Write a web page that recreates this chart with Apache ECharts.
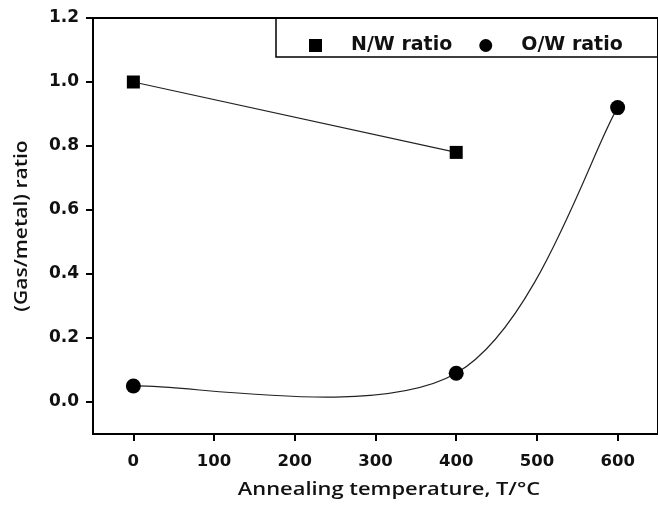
<!DOCTYPE html>
<html>
<head>
<meta charset="utf-8">
<script src="https://cdn.jsdelivr.net/npm/echarts@6/dist/echarts.min.js"></script>
<style>
  html, body { margin: 0; padding: 0; background: #fff; }
  #chart { width: 658px; height: 508px; }
</style>
</head>
<body>
<div id="chart"></div>
<script>
// Annealing temperature (°C) and measured gas-to-metal ratios
const nwTemps = [0, 400];
const nwRatio = [1.0, 0.78];
const owTemps = [0, 400, 600];
const owRatio = [0.05, 0.09, 0.92];

const xTicks = [0, 100, 200, 300, 400, 500, 600];
const yTicks = [0.0, 0.2, 0.4, 0.6, 0.8, 1.0, 1.2];

const seriesNames = ['N/W ratio', 'O/W ratio'];
const xTitle = 'Annealing temperature, T/\u00B0C';
const yTitle = '(Gas/metal) ratio';

const pairs = (xs, ys) => xs.map((x, i) => [x, ys[i]]);

const tickFont = 'DejaVu Sans';

// Catmull-Rom spline through the projected points, as an SVG path string
function splinePath(pts) {
  let d = 'M' + pts[0][0] + ' ' + pts[0][1];
  for (let i = 0; i < pts.length - 1; i++) {
    const p0 = pts[i - 1] || pts[i];
    const p1 = pts[i];
    const p2 = pts[i + 1];
    const p3 = pts[i + 2] || pts[i + 1];
    const c1 = [p1[0] + (p2[0] - p0[0]) / 6, p1[1] + (p2[1] - p0[1]) / 6];
    const c2 = [p2[0] - (p3[0] - p1[0]) / 6, p2[1] - (p3[1] - p1[1]) / 6];
    d += ' C' + c1[0] + ' ' + c1[1] + ' ' + c2[0] + ' ' + c2[1] + ' ' + p2[0] + ' ' + p2[1];
  }
  return d;
}

const chart = echarts.init(document.getElementById('chart'), null, { renderer: 'canvas' });

chart.setOption({
  animation: false,
  backgroundColor: '#ffffff',
  color: ['#000000', '#000000'],
  grid: {
    left: 93, top: 18, width: 568, height: 416,
    show: true, borderColor: '#000', borderWidth: 2, backgroundColor: 'transparent'
  },
  xAxis: {
    type: 'value', min: -50, max: 650,
    axisLine: { show: true, onZero: false, lineStyle: { color: '#000', width: 2 } },
    axisTick: { show: true, inside: false, length: 7, lineStyle: { color: '#000', width: 2 }, customValues: xTicks },
    axisLabel: {
      customValues: xTicks, margin: 19, color: '#111',
      fontFamily: tickFont, fontWeight: 'bold', fontSize: 16.5
    },
    splitLine: { show: false }
  },
  yAxis: {
    type: 'value', min: -0.1, max: 1.2,
    axisLine: { show: true, onZero: false, lineStyle: { color: '#000', width: 2 } },
    axisTick: { show: true, inside: false, length: 7, lineStyle: { color: '#000', width: 2 }, customValues: yTicks },
    axisLabel: {
      customValues: yTicks, margin: 14, color: '#111',
      fontFamily: tickFont, fontWeight: 'bold', fontSize: 17,
      formatter: v => v.toFixed(1)
    },
    splitLine: { show: false }
  },
  legend: {
    left: 304, top: 31,
    itemWidth: 13, itemHeight: 13, itemGap: 27,
    data: [
      { name: seriesNames[0], icon: 'rect', itemStyle: { color: '#000' } },
      { name: seriesNames[1], icon: 'circle', itemStyle: { color: '#000' } }
    ],
    textStyle: {
      color: '#111', fontFamily: tickFont, fontWeight: 'bold', fontSize: 19,
      padding: [0, 0, 0, 24]
    }
  },
  graphic: [
    {
      type: 'rect', z: 100,
      shape: { x: 276, y: 18, width: 420, height: 39 },
      style: { fill: 'none', stroke: '#000', lineWidth: 1.5 }
    },
    {
      type: 'text', x: 389, y: 490, scaleX: 1.25,
      style: {
        text: xTitle, fill: '#111', font: '600 17.5px "Open Sans"',
        textAlign: 'center', textVerticalAlign: 'middle'
      }
    },
    {
      type: 'text', x: 22, y: 226, rotation: Math.PI / 2, scaleX: 1.2,
      style: {
        text: yTitle, fill: '#111', font: '600 17.5px "Open Sans"',
        textAlign: 'center', textVerticalAlign: 'middle'
      }
    }
  ],
  series: [
    {
      name: seriesNames[0], type: 'line',
      data: pairs(nwTemps, nwRatio),
      symbol: 'rect', symbolSize: 13,
      itemStyle: { color: '#000' },
      lineStyle: { color: '#222', width: 1.2 },
      z: 3
    },
    {
      // curve through the O/W points
      name: seriesNames[1], type: 'custom',
      data: pairs(owTemps, owRatio),
      encode: { x: 0, y: 1 },
      itemStyle: { color: '#000' },
      renderItem: (params, api) => {
        if (params.dataIndex !== 0) return null;
        const pts = owTemps.map((t, i) => api.coord([t, owRatio[i]]));
        return {
          type: 'path',
          shape: { pathData: splinePath(pts) },
          style: { fill: 'none', stroke: '#222', lineWidth: 1.2 }
        };
      },
      z: 2
    },
    {
      name: seriesNames[1], type: 'line',
      data: pairs(owTemps, owRatio),
      symbol: 'circle', symbolSize: 15,
      itemStyle: { color: '#000' },
      lineStyle: { width: 0, opacity: 0 },
      z: 3
    }
  ]
});
</script>
</body>
</html>
